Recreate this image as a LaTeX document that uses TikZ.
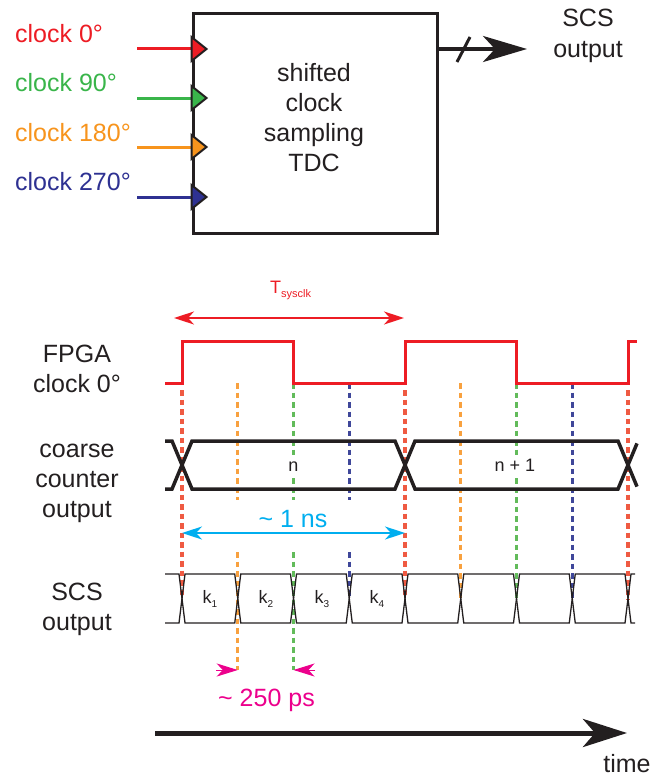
\documentclass[tikz,border=0pt]{standalone}
\usepackage{fontspec}
\setmainfont{Liberation Sans}
\usepackage{xcolor}
\definecolor{inkblack}{HTML}{231F20}
\definecolor{clkred}{HTML}{ED1C24}
\definecolor{clkgreen}{HTML}{39B54A}
\definecolor{clkorange}{HTML}{F7941D}
\definecolor{clkblue}{HTML}{2E3192}
\definecolor{markred}{HTML}{EF5A42}
\definecolor{markorange}{HTML}{F8A13F}
\definecolor{markgreen}{HTML}{62BB5A}
\definecolor{markblue}{HTML}{3F479A}
\definecolor{nscyan}{HTML}{00AEEF}
\definecolor{psmagenta}{HTML}{EC008C}
\usepackage{tikz}
\usetikzlibrary{arrows.meta, calc}
\tikzset{
    lbl/.style = {inner sep=0pt, font=\fontsize{25}{30}\selectfont,
                  text=inkblack, align=center},
    small/.style = {inner sep=0pt, font=\fontsize{18}{20}\selectfont, text=inkblack},
    clkline/.style = {line width=3pt},
    port/.style = {line width=2pt, draw=inkblack, line join=miter},
    bus/.style = {line width=3.5pt, draw=inkblack, line join=miter},
    scsline/.style = {line width=1.3pt, draw=inkblack},
    marker/.style = {line width=3.3pt, dash pattern=on 5.5pt off 4pt},
    bigarrow/.style = {-{Stealth[length=44pt, width=26pt, inset=12pt]},
                       line width=4pt, draw=inkblack},
    spanarrow/.style = {{Stealth[length=20pt, width=13pt, inset=6pt]}-{Stealth[length=20pt, width=13pt, inset=6pt]},
                        line width=2pt},
    psarrow/.style = {-{Stealth[length=21pt, width=13pt, inset=6pt]}, line width=1pt},
}

\begin{document}
\begin{tikzpicture}[x=1pt, y=-1pt]
        \useasboundingbox (0,0) rectangle (653,776);
        % TDC block
        \node[draw=inkblack, line width=3pt, minimum width=244pt,
              minimum height=219pt, inner sep=0pt] (tdc) at (315,123.5) {};
        \node[lbl] (tdctext) at (314,118) {shifted\\clock\\sampling\\TDC};
        % Clock inputs
        \coordinate (in0) at (137,49);
        \coordinate (in90) at (137,98);
        \coordinate (in180) at (137,147);
        \coordinate (in270) at (137,197);
        \draw[clkline, clkred] (in0) -- (in0 -| tdc.west);
        \draw[clkline, clkgreen] (in90) -- (in90 -| tdc.west);
        \draw[clkline, clkorange] (in180) -- (in180 -| tdc.west);
        \draw[clkline, clkblue] (in270) -- (in270 -| tdc.west);
        \draw[port, fill=clkred] (in0 -| tdc.west) ++(0,-12) -- ++(15,12) -- ++(-15,12) -- cycle;
        \draw[port, fill=clkgreen] (in90 -| tdc.west) ++(0,-12) -- ++(15,12) -- ++(-15,12) -- cycle;
        \draw[port, fill=clkorange] (in180 -| tdc.west) ++(0,-12) -- ++(15,12) -- ++(-15,12) -- cycle;
        \draw[port, fill=clkblue] (in270 -| tdc.west) ++(0,-12) -- ++(15,12) -- ++(-15,12) -- cycle;
        \node[lbl, text=clkred, anchor=base west] (lbl0) at (15,43) {clock 0°};
        \node[lbl, text=clkgreen, anchor=base west] (lbl90) at (15,91) {clock 90°};
        \node[lbl, text=clkorange, anchor=base west] (lbl180) at (15,141) {clock 180°};
        \node[lbl, text=clkblue, anchor=base west] (lbl270) at (15,190) {clock 270°};
        % Bus output
        \coordinate (scsout) at (527,49);
        \draw[bigarrow] (tdc.east |- scsout) -- (scsout);
        \draw[line width=3pt, inkblack] (457,62) -- (470,37);
        \node[lbl, anchor=base] (scslbl) at (588,57) {SCS\\output};

        % Period of the system clock
        \node[inner sep=0pt, anchor=base west, text=clkred,
              font=\fontsize{18}{20}\selectfont] (tsys) at (270,293)
              {T\raisebox{-4.5pt}{\fontsize{11}{12}\selectfont sysclk}};
        \coordinate (tsa) at (174,318);
        \coordinate (tsb) at (404,318);
        \draw[spanarrow, clkred] (tsa) -- (tsb);
        % Phase markers (first period split round the 1 ns label)
        \draw[marker, markred] (182,390) -- (182,598);
        \draw[marker, markorange] (237.75,383) -- (237.75,500);
        \draw[marker, markorange] (237.75,552) -- (237.75,670);
        \draw[marker, markgreen] (293.5,383) -- (293.5,500);
        \draw[marker, markgreen] (293.5,552) -- (293.5,670);
        \draw[marker, markblue] (349.25,383) -- (349.25,500);
        \draw[marker, markblue] (349.25,552) -- (349.25,598);
        \draw[marker, markred] (405,390) -- (405,598);
        \draw[marker, markorange] (460.75,383) -- (460.75,598);
        \draw[marker, markgreen] (516.5,383) -- (516.5,598);
        \draw[marker, markblue] (572.25,383) -- (572.25,598);
        \draw[marker, markred] (628,390) -- (628,600);
        % FPGA clock
        \draw[clkline, clkred, line join=miter]
              (165,383) -- (182,383) -- (182,341) -- (293.5,341) -- (293.5,383)
              -- (405,383) -- (405,341) -- (516.5,341) -- (516.5,383)
              -- (628,383) -- (628,341) -- (637,341);
        \node[lbl, anchor=base] (fpgalbl) at (77,392) {FPGA\\clock 0°};
        % Coarse counter
        \draw[bus] (165,441) -- (172,441) -- (192,489) -- (395,489)
              -- (415,441) -- (618,441) -- (637,486.6);
        \draw[bus] (165,489) -- (172,489) -- (192,441) -- (395,441)
              -- (415,489) -- (618,489) -- (637,443.4);
        \node[small, anchor=base, fill=white, inner sep=3pt] (cntn) at (293.5,471) {n};
        \node[small, anchor=base, fill=white, inner sep=3pt] (cntn1) at (515,471) {n + 1};
        \node[lbl, anchor=base] (coarselbl) at (77,517) {coarse\\counter\\output};
        % 1 ns span
        \coordinate (nsa) at (182,533);
        \coordinate (nsb) at (405,533);
        \draw[spanarrow, nscyan] (nsa) -- (nsb);
        \node[lbl, text=nscyan, anchor=base] (nslbl) at (293,527) {\textasciitilde{} 1 ns};
        % SCS output
        \draw[scsline] (165,574) -- (179,574) -- (185,623) -- (234.75,623) -- (240.75,574)
              -- (290.5,574) -- (296.5,623) -- (346.25,623) -- (352.25,574)
              -- (402,574) -- (408,623) -- (457.75,623) -- (463.75,574)
              -- (513.5,574) -- (519.5,623) -- (569.25,623) -- (575.25,574)
              -- (625,574) -- (631,623) -- (635,623);
        \draw[scsline] (165,623) -- (179,623) -- (185,574) -- (234.75,574) -- (240.75,623)
              -- (290.5,623) -- (296.5,574) -- (346.25,574) -- (352.25,623)
              -- (402,623) -- (408,574) -- (457.75,574) -- (463.75,623)
              -- (513.5,623) -- (519.5,574) -- (569.25,574) -- (575.25,623)
              -- (625,623) -- (631,574) -- (635,574);
        \node[small, anchor=base] (k1) at (210,603) {k\raisebox{-4pt}{\fontsize{10}{12}\selectfont 1}};
        \node[small, anchor=base] (k2) at (266,603) {k\raisebox{-4pt}{\fontsize{10}{12}\selectfont 2}};
        \node[small, anchor=base] (k3) at (322,603) {k\raisebox{-4pt}{\fontsize{10}{12}\selectfont 3}};
        \node[small, anchor=base] (k4) at (377,603) {k\raisebox{-4pt}{\fontsize{10}{12}\selectfont 4}};
        \node[lbl, anchor=base] (scsrow) at (77,630) {SCS\\output};
        % 250 ps step
        \coordinate (psa) at (237.75,670);
        \coordinate (psb) at (293.5,670);
        \draw[psarrow, psmagenta] (216,670) -- (psa);
        \draw[psarrow, psmagenta] (315,670) -- (psb);
        \node[lbl, text=psmagenta, anchor=base] (pslbl) at (266.5,706) {\textasciitilde{} 250 ps};
        % Time axis
        \coordinate (t0) at (155,733);
        \coordinate (t1) at (627,733);
        \draw[-{Stealth[length=44pt, width=28pt, inset=12pt]}, line width=5pt, inkblack] (t0) -- (t1);
        \node[lbl, anchor=base] (timelbl) at (627,772) {time};
\end{tikzpicture}
\end{document}
